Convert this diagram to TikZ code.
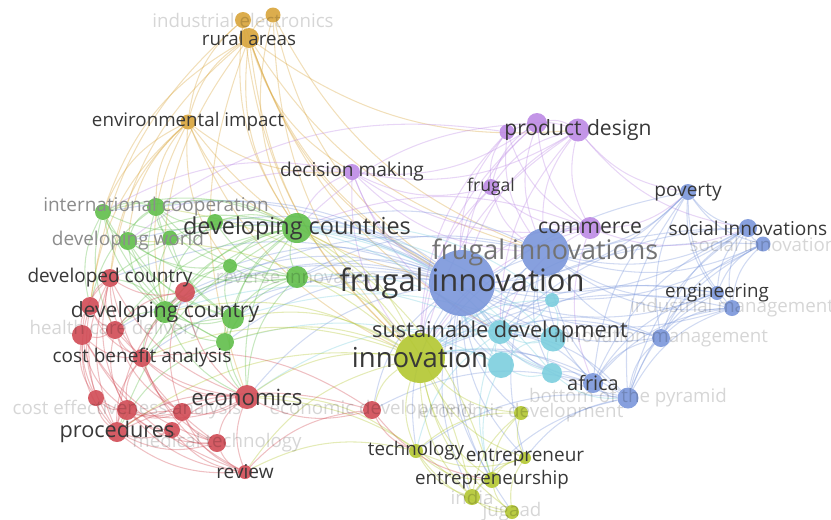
\documentclass[tikz,border=0pt]{standalone}
\usepackage{fontspec}
\setmainfont{Open Sans}
\usetikzlibrary{backgrounds}
\definecolor{corange}{RGB}{216,164,58}
\definecolor{cpurple}{RGB}{188,138,228}
\definecolor{cblue}{RGB}{122,150,218}
\definecolor{ccyan}{RGB}{124,206,222}
\definecolor{cyellow}{RGB}{178,198,48}
\definecolor{cgreen}{RGB}{96,190,74}
\definecolor{cred}{RGB}{208,74,84}
\tikzstyle{kw} = [circle, inner sep=0pt, draw=none, fill opacity=0.9]
\tikzstyle{link} = [line width=0.9pt, opacity=0.35, bend right=20]
\tikzstyle{lbl} = [inner sep=0pt, text=black!78]
\tikzstyle{grey} = [inner sep=0pt, text=black!45]
\tikzstyle{faint} = [inner sep=0pt, text=black, text opacity=0.16]

\begin{document}
\begin{tikzpicture}[x=0.03cm, y=-0.03cm]
\useasboundingbox (0,0) rectangle (831,519);
% keywords: name/x/y/diameter/cluster
\foreach \n/\x/\y/\d/\c in {
  indelec/243/20/16/corange, orng/273/15/15/corange, rural/249/38/20/corange, envimp/188/122/15/corange,
  decmak/352/172/16/cpurple, pdes/578/130/23/cpurple, pdestwo/537/123/20/cpurple, pdesthree/507/132/15/cpurple,
  frugal/491/187/16/cpurple, commerce/590/228/22/cpurple,
  fi/462/283/66/cblue, fis/545/252/48/cblue, poverty/688/192/16/cblue, socinns/748/228/18/cblue,
  socinn/763/244/15/cblue, engin/717/293/14/cblue, indman/732/308/16/cblue, manage/661/338/18/cblue,
  africa/593/383/20/cblue, bop/628/398/21/cblue,
  cyone/552/300/14/ccyan, susdev/500/332/24/ccyan, cytwo/553/339/25/ccyan, cythree/501/365/26/ccyan, cyfour/552/373/20/ccyan,
  innov/420/358/50/cyellow, ecodevb/521/413/14/cyellow, techn/416/451/14/cyellow, entre/525/458/12/cyellow,
  entship/492/480/16/cyellow, india/472/497/16/cyellow, jugaad/512/512/14/cyellow,
  coopa/103/212/16/cgreen, coop/156/207/18/cgreen, grthree/215/222/16/cgreen, devcs/297/228/30/cgreen,
  world/128/241/18/cgreen, grfive/170/238/15/cgreen, grsix/230/266/14/cgreen, reverse/297/277/22/cgreen,
  devc/165/312/22/cgreen, greight/233/318/22/cgreen, grnine/225/342/18/cgreen,
  developed/110/278/18/cred, redb/185/292/20/cred, redc/90/306/18/cred, redd/82/335/20/cred,
  health/115/330/18/cred, costben/142/358/18/cred, rede/96/398/16/cred, costeff/127/410/20/cred,
  redf/182/412/18/cred, economics/247/397/24/cred, proc/117/432/20/cred, redg/172/430/16/cred,
  medtech/217/443/18/cred, review/245/472/14/cred, ecodev/372/410/18/cred}
  \node (\n) [kw, fill=\c, minimum size=\d*0.03cm] at (\x,\y) {};

% links, coloured by cluster
\begin{scope}[on background layer]
\foreach \a/\b in {rural/fi, rural/devcs, rural/innov, rural/envimp, rural/devc, rural/decmak, rural/fis,
  rural/coopa, rural/economics, rural/pdes, rural/susdev, rural/developed, indelec/fi, indelec/rural,
  indelec/devcs, indelec/innov, indelec/envimp, indelec/redc, orng/fi, orng/fis, orng/devcs, orng/rural,
  orng/innov, envimp/devcs, envimp/coopa, envimp/coop, envimp/world, envimp/fi, envimp/devc,
  envimp/developed, envimp/redc, envimp/decmak, envimp/grsix, envimp/innov}
  \draw [link, corange] (\a) to (\b);
\foreach \a/\b in {decmak/fi, decmak/fis, decmak/pdes, decmak/pdestwo, decmak/commerce, decmak/devcs,
  decmak/innov, decmak/coopa, decmak/susdev, decmak/frugal, decmak/world, pdes/fi, pdes/fis,
  pdes/commerce, pdes/pdestwo, pdes/pdesthree, pdes/poverty, pdes/socinns, pdes/innov, pdes/frugal,
  pdes/susdev, pdestwo/fi, pdestwo/fis, pdestwo/commerce, pdestwo/frugal, pdestwo/innov, pdestwo/devcs,
  pdesthree/fi, pdesthree/fis, pdesthree/frugal, pdesthree/innov, pdesthree/commerce, pdesthree/coop,
  frugal/fi, frugal/fis, frugal/commerce, frugal/innov, commerce/fi, commerce/fis, commerce/innov,
  commerce/poverty, commerce/socinns, commerce/susdev, commerce/africa, commerce/devcs}
  \draw [link, cpurple] (\a) to (\b);
\foreach \a/\b in {fi/fis, fi/innov, fi/devcs, fi/devc, fi/reverse, fi/susdev, fi/cytwo, fi/cythree,
  fi/cyfour, fi/cyone, fi/poverty, fi/socinns, fi/socinn, fi/engin, fi/indman, fi/manage, fi/africa,
  fi/bop, fi/economics, fi/coop, fi/coopa, fi/world, fi/grthree, fi/grfive, fi/grsix, fi/greight,
  fi/grnine, fi/developed, fi/redb, fi/costben, fi/ecodev, fi/techn, fi/entship, fi/entre, fi/india,
  fi/ecodevb, fi/jugaad, fi/health, fis/innov, fis/poverty, fis/socinns, fis/socinn, fis/engin,
  fis/indman, fis/manage, fis/africa, fis/bop, fis/susdev, fis/cytwo, fis/devcs, fis/reverse, fis/devc,
  fis/cyfour, fis/entre, poverty/socinns, poverty/socinn, poverty/engin, poverty/manage, poverty/africa,
  poverty/bop, poverty/innov, poverty/indman, socinns/socinn, socinns/engin, socinns/indman,
  socinns/manage, socinns/bop, socinns/africa, socinns/innov, socinns/susdev, socinn/engin,
  socinn/indman, socinn/bop, socinn/manage, socinn/innov, engin/indman, engin/manage, engin/africa,
  engin/innov, engin/susdev, engin/bop, indman/manage, indman/bop, indman/africa, indman/innov,
  manage/bop, manage/africa, manage/innov, manage/susdev, africa/bop, africa/innov, africa/susdev,
  africa/cyfour, africa/ecodev, bop/innov, bop/entre, bop/india, bop/susdev, bop/techn}
  \draw [link, cblue] (\a) to (\b);
\foreach \a/\b in {susdev/innov, susdev/cyone, susdev/cytwo, susdev/cythree, susdev/cyfour, susdev/devcs,
  susdev/devc, susdev/economics, susdev/reverse, susdev/entship, susdev/techn, cytwo/innov, cytwo/cyfour,
  cytwo/cyone, cytwo/cythree, cytwo/devcs, cytwo/greight, cythree/innov, cythree/cyfour, cythree/devcs,
  cythree/grnine, cythree/entship, cyfour/innov, cyfour/devcs, cyfour/bop, cyone/innov, cyone/devcs}
  \draw [link, ccyan] (\a) to (\b);
\foreach \a/\b in {innov/devcs, innov/devc, innov/reverse, innov/greight, innov/grnine, innov/economics,
  innov/ecodev, innov/techn, innov/entre, innov/entship, innov/india, innov/jugaad, innov/ecodevb,
  innov/coop, innov/world, innov/costben, innov/proc, innov/review, ecodevb/entre, ecodevb/entship,
  ecodevb/india, ecodevb/techn, techn/entship, techn/india, techn/jugaad, techn/entre, techn/economics,
  techn/review, entre/entship, entre/india, entre/jugaad, entship/india, entship/jugaad, entship/devcs,
  india/jugaad, india/devcs, india/economics}
  \draw [link, cyellow] (\a) to (\b);
\foreach \a/\b in {devcs/coop, devcs/coopa, devcs/grthree, devcs/world, devcs/grfive, devcs/grsix,
  devcs/reverse, devcs/devc, devcs/greight, devcs/grnine, devcs/developed, devcs/redb, devcs/economics,
  devcs/costben, devcs/health, devcs/proc, coop/coopa, coop/grthree, coop/world, coop/grfive, coop/devc,
  coop/greight, coop/reverse, coop/grsix, coop/redc, coopa/world, coopa/grthree, coopa/devc,
  coopa/greight, coopa/redc, coopa/health, coopa/grnine, world/grfive, world/devc, world/greight,
  world/grnine, world/grsix, world/reverse, grthree/devc, grthree/reverse, grfive/devc, grfive/greight,
  grsix/reverse, grsix/devc, grsix/greight, reverse/devc, reverse/greight, reverse/grnine,
  reverse/economics, devc/greight, devc/grnine, devc/developed, devc/health, devc/costben,
  devc/economics, greight/grnine, greight/economics, greight/costben, grnine/economics, grnine/proc}
  \draw [link, cgreen] (\a) to (\b);
\foreach \a/\b in {developed/redb, developed/redc, developed/health, developed/redd, developed/costben,
  developed/rede, developed/costeff, developed/proc, developed/economics, developed/medtech,
  redb/health, redb/costben, redb/economics, redb/redf, redb/proc, redc/redd, redc/health, redc/costben,
  redc/rede, redc/proc, redd/health, redd/costben, redd/rede, redd/costeff, redd/proc, redd/review,
  redd/medtech, health/costben, health/costeff, health/economics, health/redf, costben/economics,
  costben/costeff, costben/redf, costben/proc, costben/medtech, costben/review, rede/costeff, rede/proc,
  rede/redf, costeff/proc, costeff/redf, costeff/redg, costeff/medtech, costeff/economics,
  costeff/review, redf/economics, redf/proc, redf/medtech, redf/review, economics/proc,
  economics/medtech, economics/review, economics/ecodev, economics/redg, proc/redg, proc/medtech,
  proc/review, redg/medtech, redg/review, medtech/review, ecodev/review, ecodev/proc, ecodev/costben,
  ecodev/techn, ecodev/entship}
  \draw [link, cred] (\a) to (\b);
\end{scope}

% faint labels
\foreach \n/\t in {indelec/industrial electronics, socinn/social innovation, reverse/reverse innovation,
  health/health care delivery, indman/industrial management, manage/innovation management,
  bop/bottom of the pyramid, costeff/cost effectiveness analysis, ecodev/economic development,
  ecodevb/economic development, medtech/medical technology, india/india, jugaad/jugaad}
  \node (l\n) [faint, font=\fontsize{16}{17}\selectfont] at (\n) {\t};
\node (lfis) [grey, text=black!55, font=\fontsize{23}{24}\selectfont] at (fis) {frugal innovations};
\node (lcoop) [grey, font=\fontsize{16.2}{17}\selectfont] at (coop) {international cooperation};
\node (lworld) [grey, font=\fontsize{16.2}{17}\selectfont] at (world) {developing world};
% labels
\foreach \n/\t/\s in {rural/rural areas/16, envimp/environmental impact/16, decmak/decision making/16.3,
  pdes/product design/18, frugal/frugal/15, commerce/commerce/18, poverty/poverty/16.3,
  socinns/social innovations/16.3, developed/developed country/16.2, devc/developing country/18,
  costben/cost benefit analysis/16.2, engin/engineering/16, africa/africa/17, economics/economics/19,
  proc/procedures/18.5, techn/technology/16, entre/entrepreneur/16.2, entship/entrepreneurship/16,
  review/review/16.3, susdev/sustainable development/18.6, devcs/developing countries/20,
  innov/innovation/23.5, fi/frugal innovation/26.4}
  \node (l\n) [lbl, font=\fontsize{\s}{\s}\selectfont] at (\n) {\t};
\end{tikzpicture}
\end{document}
